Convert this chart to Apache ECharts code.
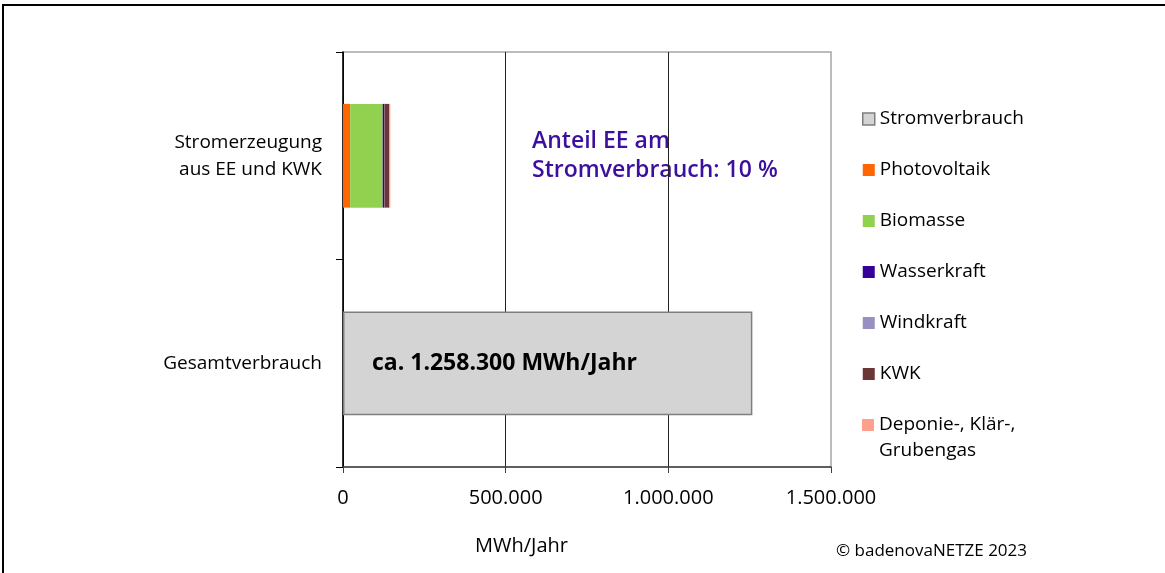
<!DOCTYPE html>
<html>
<head>
<meta charset="utf-8">
<script src="https://cdn.jsdelivr.net/npm/echarts@6/dist/echarts.min.js"></script>
<style>
  html, body { margin: 0; padding: 0; background: #fff; }
  #chart { width: 1165px; height: 573px; }
</style>
</head>
<body>
<div id="chart"></div>
<script>
// Categories on the vertical axis (top to bottom)
const categories = ['Stromerzeugung\naus EE und KWK', 'Gesamtverbrauch'];

// Series names and values in MWh/Jahr (index 0: Erzeugung, index 1: Verbrauch)
const seriesNames = ['Stromverbrauch', 'Photovoltaik', 'Biomasse', 'Wasserkraft', 'Windkraft', 'KWK', 'Deponie-, Klär-, Grubengas'];
const stromverbrauch = [null, 1258300];
const photovoltaik   = [22000, null];
const biomasse       = [100000, null];
const wasserkraft    = [5000, null];
const windkraft      = [500, null];
const kwk            = [14000, null];
const deponiegas     = [4000, null];

// Value axis ticks
const xTicks = [0, 500000, 1000000, 1500000];

const colors = ['#d4d4d4', '#ff6600', '#92d050', '#330099', '#9a8fc2', '#6b3636', '#ffa08c'];
const FONT = 'Open Sans';

function de(n) {
  return String(Math.round(n)).replace(/\B(?=(\d{3})+(?!\d))/g, '.');
}

const values = [stromverbrauch, photovoltaik, biomasse, wasserkraft, windkraft, kwk, deponiegas];

// Renewable share: everything except KWK, relative to total consumption
const eeSum = photovoltaik[0] + biomasse[0] + wasserkraft[0] + windkraft[0] + deponiegas[0];
const eeShare = Math.round(eeSum / stromverbrauch[1] * 100);

const series = seriesNames.map((name, i) => {
  const s = {
    name: name,
    type: 'bar',
    stack: 'total',
    barWidth: '50%',
    data: values[i],
    itemStyle: { color: colors[i] },
    emphasis: { disabled: true }
  };
  if (i === 0) {
    s.itemStyle = { color: colors[0], borderColor: '#7f7f7f', borderWidth: 1.5 };
    s.label = {
      show: true,
      position: 'insideLeft',
      distance: 29,
      formatter: p => 'ca. ' + de(p.value) + ' MWh/Jahr',
      fontFamily: FONT,
      fontSize: 23,
      fontWeight: 'bold',
      color: '#000'
    };
  }
  return s;
});

const lastName = seriesNames[seriesNames.length - 1];
const legendText = { fontFamily: FONT, fontSize: 19, color: '#000', lineHeight: 24 };

const chart = echarts.init(document.getElementById('chart'), null, { renderer: 'canvas' });
chart.setOption({
  animation: false,
  backgroundColor: '#fff',
  textStyle: { fontFamily: FONT },
  grid: {
    left: 343, top: 52, width: 488, height: 415,
    show: true, borderColor: '#a6a6a6', borderWidth: 1.5, backgroundColor: 'transparent'
  },
  xAxis: {
    type: 'value',
    min: xTicks[0],
    max: xTicks[xTicks.length - 1],
    interval: xTicks[1] - xTicks[0],
    axisLine: { show: true, lineStyle: { color: '#404040', width: 1.5 } },
    axisTick: { show: true, length: 6, lineStyle: { color: '#404040' } },
    axisLabel: {
      formatter: v => de(v),
      fontFamily: FONT, fontSize: 20, color: '#000', margin: 21
    },
    splitLine: { show: true, showMaxLine: false, lineStyle: { color: '#222', width: 1 } }
  },
  yAxis: {
    type: 'category',
    inverse: true,
    data: categories,
    axisLine: { show: true, lineStyle: { color: '#000', width: 1.5 } },
    axisTick: { show: true, length: 7, lineStyle: { color: '#000' } },
    axisLabel: {
      fontFamily: FONT, fontSize: 19, color: '#000', margin: 21,
      align: 'right', lineHeight: 27
    }
  },
  legend: [
    {
      orient: 'vertical',
      left: 862,
      top: 107,
      padding: 0,
      itemWidth: 12,
      itemHeight: 12,
      itemGap: 27,
      icon: 'rect',
      selectedMode: false,
      textStyle: legendText,
      data: seriesNames.slice(0, -1).map((n, i) => {
        const d = { name: n };
        if (i === 0) d.itemStyle = { borderColor: '#7f7f7f', borderWidth: 1.5 };
        return d;
      })
    },
    {
      // last entry wraps onto a second line, drawn below as text
      orient: 'vertical',
      left: 862,
      top: 413,
      padding: 0,
      itemWidth: 12,
      itemHeight: 12,
      icon: 'rect',
      selectedMode: false,
      textStyle: legendText,
      data: [lastName],
      formatter: () => 'Deponie-, Klär-,'
    }
  ],
  graphic: [
    {
      type: 'rect', silent: true,
      shape: { x: 3, y: 5, width: 1200, height: 600 },
      style: { fill: 'none', stroke: '#000', lineWidth: 2 }
    },
    {
      type: 'text', x: 879, y: 451, silent: true,
      style: { text: 'Grubengas', fontFamily: FONT, fontSize: 19, fill: '#000', verticalAlign: 'middle' }
    },
    {
      type: 'text', x: 532, y: 156, silent: true,
      style: {
        text: 'Anteil EE am\nStromverbrauch: ' + eeShare + ' %',
        fontFamily: FONT, fontSize: 23, fontWeight: 600, fill: '#3c0f9e',
        lineHeight: 29, verticalAlign: 'middle'
      }
    },
    {
      type: 'text', x: 475, y: 546, silent: true,
      style: { text: 'MWh/Jahr', fontFamily: FONT, fontSize: 20, fill: '#000', verticalAlign: 'middle' }
    },
    {
      type: 'text', x: 836, y: 551, silent: true,
      style: { text: '© badenovaNETZE 2023', fontFamily: FONT, fontSize: 17, fill: '#000', verticalAlign: 'middle' }
    }
  ],
  series: series
});
</script>
</body>
</html>
